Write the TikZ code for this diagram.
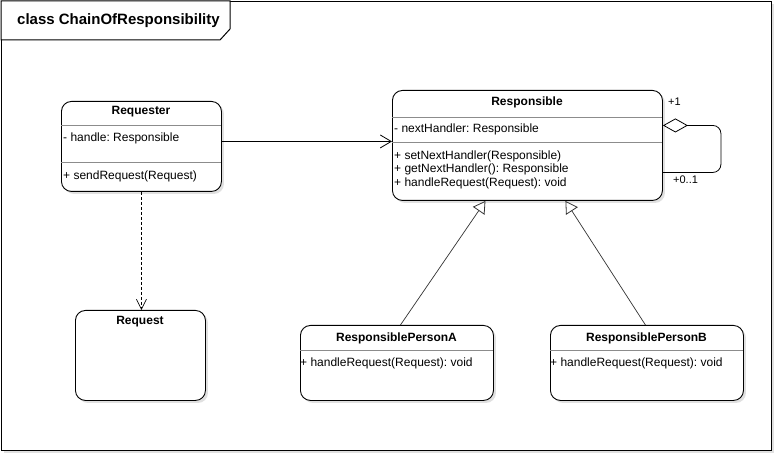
\documentclass[tikz,border=0pt]{standalone}
\usepackage{fontspec}
\setmainfont{Liberation Sans}
\frenchspacing
\usetikzlibrary{arrows.meta,shadows,calc}
\tikzset{
  shad/.style={drop shadow={shadow xshift=2.5pt,shadow yshift=-2.5pt,opacity=0.3,fill=gray!80}},
  classbox/.style={draw=black,line width=0.9pt,fill=white,rounded corners=10pt,anchor=north west,inner sep=0pt,shad},
  hdr/.style={font=\fontsize{12}{14}\selectfont\bfseries,inner sep=0pt,anchor=center},
  mem/.style={font=\fontsize{12}{13.5}\selectfont,inner sep=0pt,anchor=west,align=left},
  divider/.style={draw=black!45,line width=0.6pt},
  assoc/.style={draw=black,line width=0.8pt,-{Straight Barb[length=11pt,width=13pt,line width=0.8pt]}},
  depend/.style={draw=black,line width=0.7pt,dash pattern=on 3pt off 2pt,-{Straight Barb[length=10pt,width=10pt,line width=0.7pt]}},
  inherit/.style={draw=black!80,line width=0.7pt,-{Triangle[open,length=12pt,width=14pt,line width=0.8pt,fill=white]}},
  mult/.style={font=\fontsize{11}{13}\selectfont,inner sep=1pt,fill=white}
}
\begin{document}
\begin{tikzpicture}[x=1pt,y=-1pt]
\useasboundingbox (0,0) rectangle (782,462);
% frame
\node[draw=black,line width=1pt,fill=white,minimum width=770pt,minimum height=449pt,anchor=north west,inner sep=0pt,shad] (frame) at (1,1) {};
\draw[line width=1pt,fill=white] (1,1) -- (230,1) -- (230,29) -- (220,40) -- (1,40) -- cycle;
\node[font=\fontsize{15}{17}\selectfont\bfseries,anchor=west,inner sep=0pt] (title) at (17,21) {class ChainOfResponsibility};

% Requester
\node[classbox,minimum width=160pt,minimum height=90pt] (req) at (61,101) {};
\draw[divider] (61,125) -- (221,125);
\draw[divider] (61,162) -- (221,162);
\node[hdr] (reqh) at (141,112) {Requester};
\node[mem] (reqa) at (63,138) {- handle: Responsible};
\node[mem] (reqm) at (63,176) {+ sendRequest(Request)};

% Responsible
\node[classbox,minimum width=270pt,minimum height=110pt] (resp) at (392,90) {};
\draw[divider] (392,117) -- (662,117);
\draw[divider] (392,142) -- (662,142);
\node[hdr] (resph) at (527,102) {Responsible};
\node[mem] (respa) at (394,129) {- nextHandler: Responsible};
\node[mem] (respm) at (394,169.5) {+ setNextHandler(Responsible)\\+ getNextHandler(): Responsible\\+ handleRequest(Request): void};

% Request
\node[classbox,minimum width=130pt,minimum height=90pt] (request) at (75,310) {};
\node[hdr] (requesth) at (140,322) {Request};

% ResponsiblePersonA
\node[classbox,minimum width=193pt,minimum height=75pt] (pa) at (300,325) {};
\draw[divider] (300,350) -- (493,350);
\node[hdr] (pah) at (396.5,338) {ResponsiblePersonA};
\node[mem] (pam) at (300,363) {+ handleRequest(Request): void};

% ResponsiblePersonB
\node[classbox,minimum width=193pt,minimum height=75pt] (pb) at (550,325) {};
\draw[divider] (550,350) -- (743,350);
\node[hdr] (pbh) at (646.5,338) {ResponsiblePersonB};
\node[mem] (pbm) at (550,363) {+ handleRequest(Request): void};

% connectors
\draw[assoc] ([yshift=5pt]req.east) -- ([yshift=4pt]resp.west);
\draw[depend] (req.south) -- (request.north -| req.south);
\draw[inherit] ([xshift=3.5pt]pa.north) -- ([xshift=-42pt]resp.south);
\draw[inherit] ([xshift=-1.5pt]pb.north) -- ([xshift=38pt]resp.south);
\draw[line width=0.8pt,rounded corners=8pt,{Diamond[open,length=25pt,width=14pt,line width=0.8pt,fill=white]}-]
  ([yshift=20pt]resp.east) -- ++(58,0) -- ++(0,47) -- ([yshift=-27pt]resp.east);
\node[mult,anchor=west] (m1) at (667,102) {+1};
\node[mult,anchor=west] (m2) at (672,180) {+0..1};
\end{tikzpicture}
\end{document}
